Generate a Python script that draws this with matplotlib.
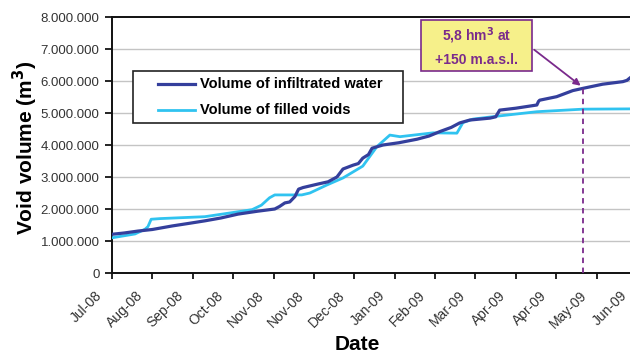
import matplotlib
matplotlib.use("Agg")
import matplotlib.pyplot as plt
from matplotlib.patches import Rectangle
from matplotlib.lines import Line2D
import matplotlib.transforms as mtransforms

plt.rcParams['font.family'] = ['Liberation Sans', 'DejaVu Sans']

# tick labels (one tick every ~25 days)
tick_labels = ["Jul-08", "Aug-08", "Sep-08", "Oct-08", "Nov-08", "Nov-08", "Dec-08",
               "Jan-09", "Feb-09", "Mar-09", "Apr-09", "Apr-09", "May-09", "Jun-09"]
y_ticks = [0, 1e6, 2e6, 3e6, 4e6, 5e6, 6e6, 7e6, 8e6]
y_tick_labels = ["0", "1.000.000", "2.000.000", "3.000.000", "4.000.000",
                 "5.000.000", "6.000.000", "7.000.000", "8.000.000"]

# Volume of infiltrated water (x in tick-interval units, y in m3)
infil_x = [0.0, 0.30, 0.64, 1.00, 1.49, 1.90, 2.30, 2.70, 3.12, 3.60, 4.03, 4.15, 4.28,
           4.40, 4.53, 4.62, 4.73, 5.10, 5.35, 5.57, 5.66, 5.72, 5.97, 6.10, 6.21, 6.35,
           6.44, 6.71, 7.10, 7.55, 7.85, 8.12, 8.40, 8.61, 8.86, 9.36, 9.50, 9.60, 10.00,
           10.52, 10.56, 10.59, 11.01, 11.20, 11.41, 11.66, 12.15, 12.65, 12.75, 12.85, 13.0]
infil_y = [1.21e6, 1.25e6, 1.31e6, 1.36e6, 1.47e6, 1.55e6, 1.63e6, 1.72e6, 1.84e6, 1.93e6,
           2.00e6, 2.08e6, 2.19e6, 2.22e6, 2.39e6, 2.62e6, 2.67e6, 2.78e6, 2.85e6, 3.00e6,
           3.15e6, 3.25e6, 3.37e6, 3.42e6, 3.59e6, 3.70e6, 3.90e6, 4.00e6, 4.07e6, 4.18e6,
           4.28e6, 4.42e6, 4.55e6, 4.69e6, 4.78e6, 4.84e6, 4.88e6, 5.09e6, 5.15e6, 5.25e6,
           5.36e6, 5.40e6, 5.51e6, 5.60e6, 5.70e6, 5.77e6, 5.90e6, 5.98e6, 6.02e6, 6.12e6, 6.16e6]

# Volume of filled voids
filled_x = [0.0, 0.57, 0.82, 0.89, 0.97, 1.19, 2.30, 3.47, 3.70, 3.90, 4.03, 4.70, 4.90,
            5.32, 5.72, 6.21, 6.56, 6.88, 7.13, 7.95, 8.54, 8.69, 8.94, 9.53, 10.52, 11.66, 13.0]
filled_y = [1.10e6, 1.22e6, 1.37e6, 1.45e6, 1.68e6, 1.70e6, 1.76e6, 1.98e6, 2.12e6, 2.35e6,
            2.44e6, 2.44e6, 2.50e6, 2.75e6, 2.97e6, 3.34e6, 3.95e6, 4.31e6, 4.26e6, 4.38e6,
            4.37e6, 4.70e6, 4.81e6, 4.90e6, 5.04e6, 5.12e6, 5.13e6]

series_names = ["Volume of infiltrated water", "Volume of filled voids"]

marker_x = 11.66
marker_y = 5.8e6

dark = "#343f9c"
light = "#30c3f0"
purple = "#7a2a8c"

fig = plt.figure(figsize=(6.3, 3.56), dpi=100)
ax = fig.add_axes([112/630, (356-273)/356, (637-112)/630, 256/356])

ax.set_xlim(0, 13)
ax.set_ylim(0, 8e6)

for y in y_ticks[1:-1]:
    ax.axhline(y, color="#c4c4c4", lw=1.0, zorder=0)

ax.plot(filled_x, filled_y, color=light, lw=2.0, zorder=3)
ax.plot(infil_x, infil_y, color=dark, lw=2.3, zorder=4)

# dashed marker line
ax.plot([marker_x, marker_x], [0, marker_y], color=purple, lw=1.3, ls=(0, (3, 2.5)), zorder=5)

# annotation box
box = Rectangle((7.65, 6.31e6), 2.75, 1.6e6, facecolor="#f6f08a", edgecolor=purple, lw=1.2, zorder=6)
ax.add_patch(box)
ax.text(9.025, 7.08e6, "5,8 hm$^{\\mathbf{3}}$ at\n+150 m.a.s.l.", ha="center", va="center",
        color=purple, fontsize=10, fontweight="bold", linespacing=1.6, zorder=7)
ax.annotate("", xy=(marker_x, marker_y), xytext=(10.40, 7.03e6),
            arrowprops=dict(arrowstyle="-|>", color=purple, lw=1.3, mutation_scale=10),
            zorder=7)

# spines
for s in ["left", "bottom", "top", "right"]:
    ax.spines[s].set_color("#111111")
    ax.spines[s].set_linewidth(1.4)

ax.set_yticks(y_ticks)
ax.set_yticklabels(y_tick_labels, fontsize=9.5, color="#333333")
ax.set_xticks(range(len(tick_labels)))
ax.set_xticklabels(tick_labels, fontsize=10, color="#333333", rotation=45,
                   ha="right", va="center", rotation_mode="anchor")
ax.tick_params(axis="y", direction="out", length=5, width=1.2, pad=4)
ax.tick_params(axis="x", direction="out", length=4, width=1.2, pad=2)
offset = mtransforms.ScaledTranslation(-12/100, -12/100, fig.dpi_scale_trans)
for lab in ax.get_xticklabels():
    lab.set_transform(lab.get_transform() + offset)

fig.text(25/630, 1 - 148/356, "Void volume (m$^{\\mathbf{3}}$)", rotation=90, ha="center",
         va="center", fontsize=15, fontweight="bold")
fig.text(357/630, 1 - 345/356, "Date", ha="center", va="center", fontsize=15, fontweight="bold")

# legend drawn in axes fraction coordinates
def fx(px):
    return (px - 112) / 525

def fy(py):
    return (273 - py) / 256

frame = Rectangle((fx(133), fy(123)), fx(403) - fx(133), fy(71) - fy(123),
                  transform=ax.transAxes, facecolor="white", edgecolor="#222222",
                  lw=1.2, zorder=8)
ax.add_patch(frame)
for name, col, lw, py in [(series_names[0], dark, 2.3, 84), (series_names[1], light, 2.0, 110)]:
    ax.add_line(Line2D([fx(158), fx(195)], [fy(py), fy(py)], transform=ax.transAxes,
                       color=col, lw=lw, zorder=9))
    ax.text(fx(200), fy(py), name, transform=ax.transAxes, ha="left", va="center",
            fontsize=10.5, fontweight="bold", zorder=9)

fig.savefig("out.png", dpi=100)
